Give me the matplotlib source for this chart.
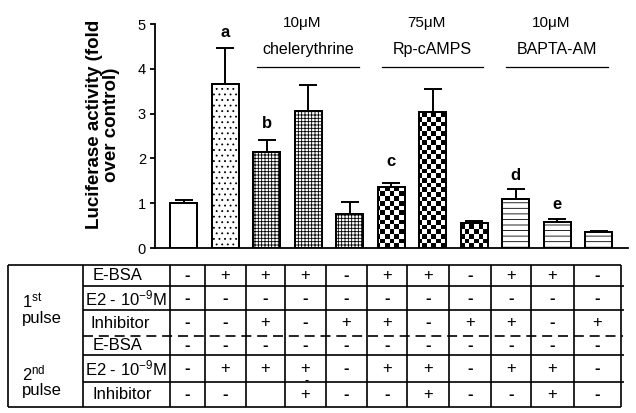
import numpy as np
import matplotlib
matplotlib.use("Agg")
import matplotlib.pyplot as plt

plt.rcParams["font.family"] = ["Liberation Sans", "DejaVu Sans"]
plt.rcParams["mathtext.fontset"] = "custom"
plt.rcParams["mathtext.rm"] = "Liberation Sans"
plt.rcParams["mathtext.it"] = "Liberation Sans:italic"
plt.rcParams["mathtext.bf"] = "Liberation Sans:bold"
plt.rcParams["hatch.linewidth"] = 0.6

# bar values (fold over control) and upper error
values = [1.00, 3.66, 2.15, 3.06, 0.77, 1.37, 3.03, 0.55, 1.09, 0.59, 0.35]
errors = [0.07, 0.81, 0.25, 0.57, 0.26, 0.07, 0.51, 0.05, 0.22, 0.05, 0.04]
patterns = ["none", "dots", "grid", "grid", "grid", "checker", "checker",
            "checker", "lines", "lines", "lines"]

letters = ["a", "b", "c", "d", "e"]
letter_bars = [1, 2, 5, 8, 9]
letter_y = [4.80, 2.79, 1.92, 1.61, 0.98]

groups = ["chelerythrine", "Rp-cAMPS", "BAPTA-AM"]
group_conc = ["10\u03bcM", "75\u03bcM", "10\u03bcM"]
group_bars = [(2, 4), (5, 7), (8, 10)]

row_labels = ["E-BSA", r"E2 - 10$^{\mathregular{-9}}$M", "Inhibitor",
              "E-BSA", r"E2 - 10$^{\mathregular{-9}}$M", "Inhibitor"]
table = [
    ["-", "+", "+", "+", "-", "+", "+", "-", "+", "+", "-"],
    ["-", "-", "-", "-", "-", "-", "-", "-", "-", "-", "-"],
    ["-", "-", "+", "-", "+", "+", "-", "+", "+", "-", "+"],
    ["-", "-", "-", "-", "-", "-", "-", "-", "-", "-", "-"],
    ["-", "+", "+", "+", "-", "+", "+", "-", "+", "+", "-"],
    ["-", "-", "-", "+", "-", "-", "+", "-", "-", "+", "-"],
]

W, H = 636, 413
fig = plt.figure(figsize=(W / 100, H / 100), dpi=100)

# ---- table drawn in pixel coordinates on an overlay axes ----
tab = fig.add_axes([0, 0, 1, 1])
tab.set_xlim(0, W)
tab.set_ylim(H, 0)
tab.axis("off")

col_edges = [170, 205, 246, 285, 326, 367, 407, 449, 491, 531, 574, 621]
row_edges = [265, 286, 310, 336, 355, 382, 407]
left, split = 8, 83
lw = 1.2
kw = dict(color="black", lw=lw, solid_capstyle="butt")
tab.plot([left, col_edges[-1]], [row_edges[0]] * 2, **kw)
tab.plot([left, col_edges[-1]], [row_edges[-1]] * 2, **kw)
for i, y in enumerate(row_edges[1:-1], start=1):
    if i == 3:
        tab.plot([split, col_edges[-1] + 2], [y, y], color="black", lw=lw,
                 ls=(0, (6, 3.5)))
    else:
        tab.plot([split, col_edges[-1] + 3], [y, y], **kw)
for x in [left, split] + col_edges:
    tab.plot([x, x], [row_edges[0], row_edges[-1]], **kw)

tab.text(22, 309, "1$^{\\mathregular{st}}$\npulse", fontsize=12, ha="left",
         va="center", linespacing=1.0)
tab.text(22, 381, "2$^{\\mathregular{nd}}$\npulse", fontsize=12, ha="left",
         va="center", linespacing=1.0)

row_y = [(row_edges[i] + row_edges[i + 1]) / 2 for i in range(6)]
label_x = [118, 126, 120, 118, 126, 122]
for lab, lx, y in zip(row_labels, label_x, row_y):
    tab.text(lx, y, lab, fontsize=12, ha="center", va="center")

for r, row in enumerate(table):
    for c, sym in enumerate(row):
        cx = (col_edges[c] + col_edges[c + 1]) / 2
        cy = row_y[r]
        size = 12
        if r == 5 and c == 2:
            # misplaced mark in the original layout
            cx, cy, size = col_edges[3] + 22, row_edges[5] - 1, 9
        tab.text(cx, cy, sym, fontsize=size, ha="center", va="center",
                 fontweight="bold" if sym == "-" else "normal")

# ---- bar chart ----
ax_left, ax_right, ax_top, ax_bottom = 155, 628, 24, 248
ax = fig.add_axes([ax_left / W, 1 - ax_bottom / H, (ax_right - ax_left) / W,
                   (ax_bottom - ax_top) / H])
ax.set_facecolor("none")
x = np.arange(len(values))
width = 0.65
hatch_map = {"none": None, "dots": "...", "grid": "+++++",
             "checker": None, "lines": "---"}
bars = ax.bar(x, values, width, color="white", edgecolor="black",
              linewidth=1.4, zorder=2)
for b, p in zip(bars, patterns):
    if hatch_map[p]:
        b.set_hatch(hatch_map[p])

# checkerboard fill clipped to its bars
cell = 4.7
nx = int(round((ax_right - ax_left) / cell))
ny = int(round((ax_bottom - ax_top) / cell))
checker = np.add.outer(np.arange(ny), np.arange(nx)) % 2
for b, p in zip(bars, patterns):
    if p == "checker":
        im = ax.imshow(checker, cmap="gray", extent=(0, 1, 0, 1),
                       transform=ax.transAxes, aspect="auto",
                       interpolation="nearest", zorder=2.5)
        im.set_clip_path(b)
ax.bar(x, values, width, fill=False, edgecolor="black", linewidth=1.4,
       zorder=3)

ax.errorbar(x, values, yerr=[np.zeros(len(values)), errors], fmt="none",
            ecolor="black", elinewidth=1.4, capsize=6.5, capthick=1.4,
            zorder=1)

for let, bi, ly in zip(letters, letter_bars, letter_y):
    ax.text(bi, ly, let, fontsize=12, fontweight="bold", ha="center",
            va="center")

for name, conc, (b0, b1) in zip(groups, group_conc, group_bars):
    x0 = b0 - width / 2 + 0.1
    x1 = b1 + width / 2 - 0.1
    xc = (x0 + x1) / 2
    ax.plot([x0, x1], [4.04, 4.04], color="black", lw=0.9, clip_on=False)
    ax.text(xc, 4.44, name, fontsize=11.5, ha="center", va="center")
    ax.text(xc - 0.15, 5.03, conc, fontsize=11, ha="center", va="center",
            clip_on=False)

ax.set_xlim(-0.687, 10.71)
ax.set_ylim(0, 5)
ax.set_yticks(range(6))
ax.set_xticks([])
ax.spines["top"].set_visible(False)
ax.spines["right"].set_visible(False)
ax.spines["left"].set_linewidth(1.3)
ax.spines["bottom"].set_linewidth(1.3)
ax.tick_params(axis="y", length=3.5, width=1.3, pad=3, labelsize=10.5)
ax.set_ylabel("Luciferase activity (fold\nover control)", fontsize=13.5,
              fontweight="bold", linespacing=1.0)
ax.yaxis.set_label_coords(-0.074, 0.55)

fig.savefig("out.png", dpi=100)
